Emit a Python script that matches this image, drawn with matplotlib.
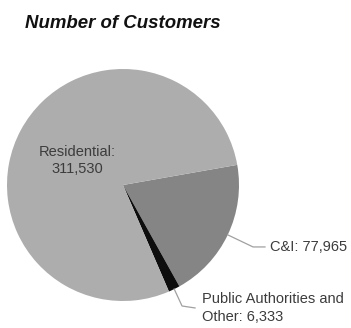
import numpy as np
import matplotlib
matplotlib.use('Agg')
import matplotlib.pyplot as plt

# data
categories = ['C&I', 'Public Authorities and\nOther', 'Residential']
customers = [77965, 6333, 311530]
colors = ['#858585', '#0d0d0d', '#adadad']

plt.rcParams['font.family'] = ['Liberation Sans', 'DejaVu Sans']

fig = plt.figure(figsize=(3.51, 3.28), dpi=100)
fig.patch.set_facecolor('white')

# pie centred at (123, 185) px with radius 116 px
ax = fig.add_axes([7 / 351, 27 / 328, 232 / 351, 232 / 328])
wedges, _ = ax.pie(customers, colors=colors, startangle=10, counterclock=False,
                   radius=1, wedgeprops={'linewidth': 0})
ax.set_xlim(-1, 1)
ax.set_ylim(-1, 1)
ax.set_aspect('auto')

fig.text(25 / 351, 1 - 23 / 328, 'Number of Customers', fontsize=13.4,
         fontweight='bold', fontstyle='italic', color='#111111',
         ha='left', va='center')

text_color = '#3c3c3c'
line_color = '#a0a0a0'

def mid_point(w, r=1.0):
    ang = np.deg2rad((w.theta1 + w.theta2) / 2)
    return r * np.cos(ang), r * np.sin(ang)

# Residential label inside
x, y = mid_point(wedges[2], 0.45)
ax.text(x, y, f'{categories[2]}:\n{customers[2]:,}', ha='center', va='center',
        fontsize=10.5, color=text_color, linespacing=1.3)

# C&I label with leader
x0, y0 = mid_point(wedges[0])
ax.plot([x0, 1.121, 1.224], [y0, -0.534, -0.534], color=line_color, lw=0.9,
        clip_on=False)
ax.text(1.267, -0.534, f'{categories[0]}: {customers[0]:,}', ha='left', va='center',
        fontsize=10.5, color=text_color, clip_on=False)

# Public Authorities label with leader
x0, y0 = mid_point(wedges[1])
ax.plot([x0, 0.509, 0.621], [y0, -1.043, -1.06], color=line_color, lw=0.9,
        clip_on=False)
ax.text(0.681, -1.06, f'{categories[1]}: {customers[1]:,}', ha='left', va='center',
        fontsize=10.5, color=text_color, linespacing=1.3, clip_on=False)

plt.savefig('out.png', dpi=100, facecolor='white')
plt.close()
